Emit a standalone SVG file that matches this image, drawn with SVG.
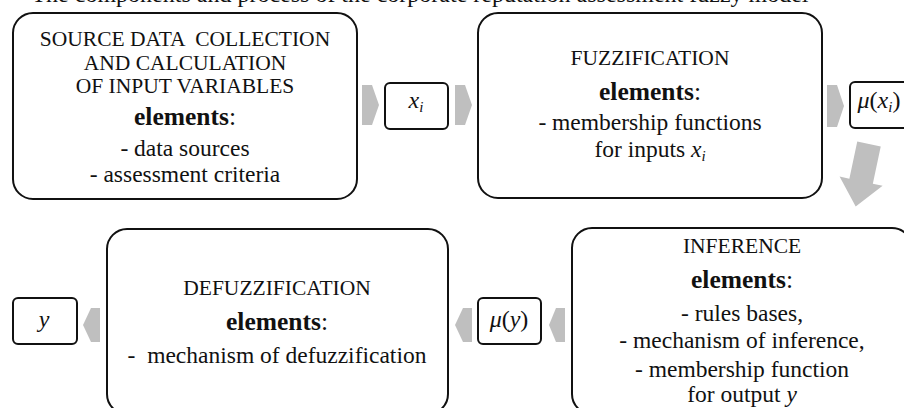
<svg xmlns="http://www.w3.org/2000/svg" width="904" height="408" viewBox="0 0 904 408">
  <style>
    .box { fill: #ffffff; stroke: #111111; stroke-width: 2; }
    .arrow { fill: #bfbfbf; stroke: none; }
    text { font-family: "Liberation Serif", "Times New Roman", serif; fill: #111111; text-anchor: middle; }
    .title { font-size: 21.5px; }
    .body { font-size: 23.5px; }
    .el { font-size: 25.5px; }
    .el tspan.b { font-weight: bold; }
    .math { font-size: 24px; }
    .it { font-style: italic; }
    .sub { font-size: 15px; font-style: italic; }
    .caption { font-size: 24px; }
  </style>
  <defs>
    <clipPath id="captionClip">
      <rect x="0" y="0" width="904" height="10"/>
    </clipPath>
  </defs>

  <rect x="0" y="0" width="904" height="408" fill="#ffffff"/>

  <!-- caption line, cropped at the top edge -->
  <g clip-path="url(#captionClip)">
    <text class="caption" x="420" y="1.5">The components and process of the corporate reputation assessment fuzzy model</text>
  </g>

  <!-- block arrows between the stages -->
  <g id="connectors">
    <polygon class="arrow" points="362,85 372,85 379,105 372,125 362,125"/>
    <polygon class="arrow" points="455,85 465,85 472,105 465,125 455,125"/>
    <polygon class="arrow" points="827,85 837,85 844,106 837,127 827,127"/>
    <polygon class="arrow" transform="translate(869,144) rotate(12)" points="-12,0 12,0 12,38 22,38 0,64 -22,38 -12,38"/>
    <polygon class="arrow" points="565,308 556,308 549,325 556,342 565,342"/>
    <polygon class="arrow" points="472,308 463,308 455,325 463,342 472,342"/>
    <polygon class="arrow" points="100,308 91,308 83,325 91,342 100,342"/>
  </g>

  <g id="source-data">
    <rect class="box" x="13" y="13" width="344" height="186" rx="20" ry="20"/>
    <text class="title" x="185" y="46" xml:space="preserve">SOURCE DATA  COLLECTION</text>
    <text class="title" x="185" y="70">AND CALCULATION</text>
    <text class="title" x="185" y="93">OF INPUT VARIABLES</text>
    <text class="el" x="185" y="125"><tspan class="b">elements</tspan>:</text>
    <text class="body" x="185" y="156">- data sources</text>
    <text class="body" x="185" y="182">- assessment criteria</text>
  </g>

  <g id="input-x">
    <rect class="box" x="385" y="83" width="63" height="46" rx="5" ry="5"/>
    <text class="math" x="416" y="108"><tspan class="it">x</tspan><tspan class="sub" dy="4">i</tspan></text>
  </g>

  <g id="fuzzification">
    <rect class="box" x="478" y="13" width="344" height="185" rx="20" ry="20"/>
    <text class="title" x="650" y="65">FUZZIFICATION</text>
    <text class="el" x="650" y="100"><tspan class="b">elements</tspan>:</text>
    <text class="body" x="650" y="130">- membership functions</text>
    <text class="body" x="650" y="157">for inputs <tspan class="it">x</tspan><tspan class="sub" dy="4">i</tspan></text>
  </g>

  <g id="membership-x">
    <rect class="box" x="850" y="82" width="62" height="46" rx="5" ry="5"/>
    <text class="math" x="879" y="108"><tspan class="it">μ</tspan>(<tspan class="it">x</tspan><tspan class="sub" dy="4">i</tspan><tspan dy="-4">)</tspan></text>
  </g>

  <g id="inference">
    <rect class="box" x="572" y="228" width="340" height="186" rx="20" ry="20"/>
    <text class="title" x="742" y="253">INFERENCE</text>
    <text class="el" x="742" y="288"><tspan class="b">elements</tspan>:</text>
    <text class="body" x="742" y="321">- rules bases,</text>
    <text class="body" x="742" y="348">- mechanism of inference,</text>
    <text class="body" x="742" y="377">- membership function</text>
    <text class="body" x="742" y="402">for output <tspan class="it">y</tspan></text>
  </g>

  <g id="membership-y">
    <rect class="box" x="478" y="298" width="63" height="46" rx="5" ry="5"/>
    <text class="math" x="509" y="327"><tspan class="it">μ</tspan>(<tspan class="it">y</tspan>)</text>
  </g>

  <g id="defuzzification">
    <rect class="box" x="107" y="229" width="341" height="185" rx="20" ry="20"/>
    <text class="title" x="277" y="295">DEFUZZIFICATION</text>
    <text class="el" x="277" y="330"><tspan class="b">elements</tspan>:</text>
    <text class="body" x="277" y="363" xml:space="preserve">-  mechanism of defuzzification</text>
  </g>

  <g id="output-y">
    <rect class="box" x="13" y="298" width="64" height="46" rx="5" ry="5"/>
    <text class="math it" x="44" y="327">y</text>
  </g>
</svg>
